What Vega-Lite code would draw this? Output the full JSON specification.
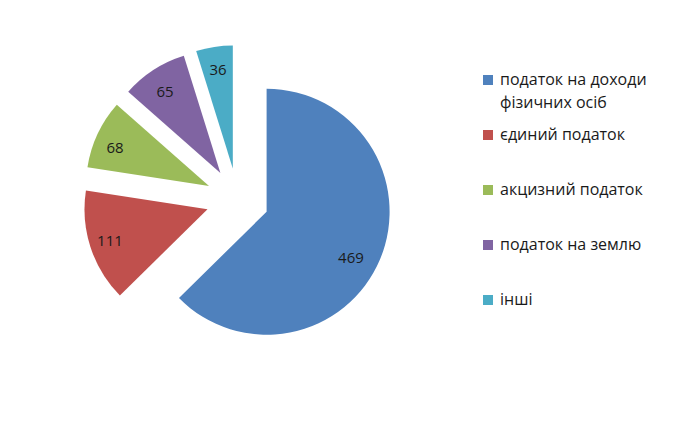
{
  "$schema": "https://vega.github.io/schema/vega-lite/v6.json",
  "width": 475,
  "height": 399,
  "autosize": "none",
  "padding": {"left": 0, "top": 0, "right": 225, "bottom": 23},
  "background": "white",
  "config": {"view": {"stroke": null}, "font": "Open Sans"},
  "data": {
    "values": [
      {"category": "податок на доходи фізичних осіб", "value": 469, "order": 1},
      {"category": "єдиний податок", "value": 111, "order": 2},
      {"category": "акцизний податок", "value": 68, "order": 3},
      {"category": "податок на землю", "value": 65, "order": 4},
      {"category": "інші", "value": 36, "order": 5}
    ]
  },
  "transform": [
    {"stack": "value", "groupby": [], "sort": [{"field": "order", "order": "ascending"}], "as": ["v0", "v1"]}
  ],
  "encoding": {
    "color": {
      "field": "category",
      "type": "nominal",
      "scale": {
        "domain": ["податок на доходи фізичних осіб", "єдиний податок", "акцизний податок", "податок на землю", "інші"],
        "range": ["#4F81BD", "#C0504D", "#9BBB59", "#8064A2", "#4BACC6"]
      },
      "legend": {
        "title": null,
        "orient": "none",
        "legendX": 480,
        "legendY": 72,
        "symbolType": "square",
        "symbolSize": 100,
        "symbolStrokeWidth": 0,
        "symbolOpacity": 1,
        "labelFont": "Open Sans",
        "labelFontSize": 16,
        "labelColor": "#1a1a1a",
        "labelLimit": 300,
        "labelOffset": 4,
        "gridAlign": "all",
        "rowPadding": 16,
        "labelExpr": "datum.label == 'податок на доходи фізичних осіб' ? ['податок на доходи', 'фізичних осіб'] : datum.label",
        "encode": {"labels": {"update": {"lineHeight": {"value": 23}}}}
      }
    }
  },
  "layer": [
    {
      "transform": [{"filter": "datum.order == 1"}],
      "mark": {"type": "arc", "radius": 123, "xOffset": 29.1, "yOffset": 12.2},
      "encoding": {"theta": {"field": "v0", "type": "quantitative"}, "theta2": {"field": "v1"}}
    },
    {
      "transform": [{"filter": "datum.order == 2"}],
      "mark": {"type": "arc", "radius": 123, "xOffset": -30.0, "yOffset": 9.7},
      "encoding": {"theta": {"field": "v0", "type": "quantitative"}, "theta2": {"field": "v1"}}
    },
    {
      "transform": [{"filter": "datum.order == 3"}],
      "mark": {"type": "arc", "radius": 123, "xOffset": -28.5, "yOffset": -13.4},
      "encoding": {"theta": {"field": "v0", "type": "quantitative"}, "theta2": {"field": "v1"}}
    },
    {
      "transform": [{"filter": "datum.order == 4"}],
      "mark": {"type": "arc", "radius": 123, "xOffset": -17.1, "yOffset": -26.4},
      "encoding": {"theta": {"field": "v0", "type": "quantitative"}, "theta2": {"field": "v1"}}
    },
    {
      "transform": [{"filter": "datum.order == 5"}],
      "mark": {"type": "arc", "radius": 123, "xOffset": -4.7, "yOffset": -31.1},
      "encoding": {"theta": {"field": "v0", "type": "quantitative"}, "theta2": {"field": "v1"}}
    },
    {
      "mark": {"type": "text", "radius": 96, "xOffset": 24.9, "yOffset": 21.5, "fontSize": 15, "font": "Open Sans", "color": "#1a1a1a"},
      "encoding": {
        "color": null,
        "theta": {"field": "value", "type": "quantitative", "stack": true},
        "detail": {"field": "category"},
        "order": {"field": "order", "type": "quantitative"},
        "text": {"condition": {"test": "datum.order == 1", "field": "value"}, "value": ""}
      }
    },
    {
      "mark": {"type": "text", "radius": 96, "xOffset": -36.2, "yOffset": 12.0, "fontSize": 15, "font": "Open Sans", "color": "#1a1a1a"},
      "encoding": {
        "color": null,
        "theta": {"field": "value", "type": "quantitative", "stack": true},
        "detail": {"field": "category"},
        "order": {"field": "order", "type": "quantitative"},
        "text": {"condition": {"test": "datum.order == 2", "field": "value"}, "value": ""}
      }
    },
    {
      "mark": {"type": "text", "radius": 96, "xOffset": -35.6, "yOffset": -10.7, "fontSize": 15, "font": "Open Sans", "color": "#1a1a1a"},
      "encoding": {
        "color": null,
        "theta": {"field": "value", "type": "quantitative", "stack": true},
        "detail": {"field": "category"},
        "order": {"field": "order", "type": "quantitative"},
        "text": {"condition": {"test": "datum.order == 3", "field": "value"}, "value": ""}
      }
    },
    {
      "mark": {"type": "text", "radius": 96, "xOffset": -20.3, "yOffset": -26.9, "fontSize": 15, "font": "Open Sans", "color": "#1a1a1a"},
      "encoding": {
        "color": null,
        "theta": {"field": "value", "type": "quantitative", "stack": true},
        "detail": {"field": "category"},
        "order": {"field": "order", "type": "quantitative"},
        "text": {"condition": {"test": "datum.order == 4", "field": "value"}, "value": ""}
      }
    },
    {
      "mark": {"type": "text", "radius": 96, "xOffset": -5.1, "yOffset": -34.6, "fontSize": 15, "font": "Open Sans", "color": "#1a1a1a"},
      "encoding": {
        "color": null,
        "theta": {"field": "value", "type": "quantitative", "stack": true},
        "detail": {"field": "category"},
        "order": {"field": "order", "type": "quantitative"},
        "text": {"condition": {"test": "datum.order == 5", "field": "value"}, "value": ""}
      }
    }
  ]
}
